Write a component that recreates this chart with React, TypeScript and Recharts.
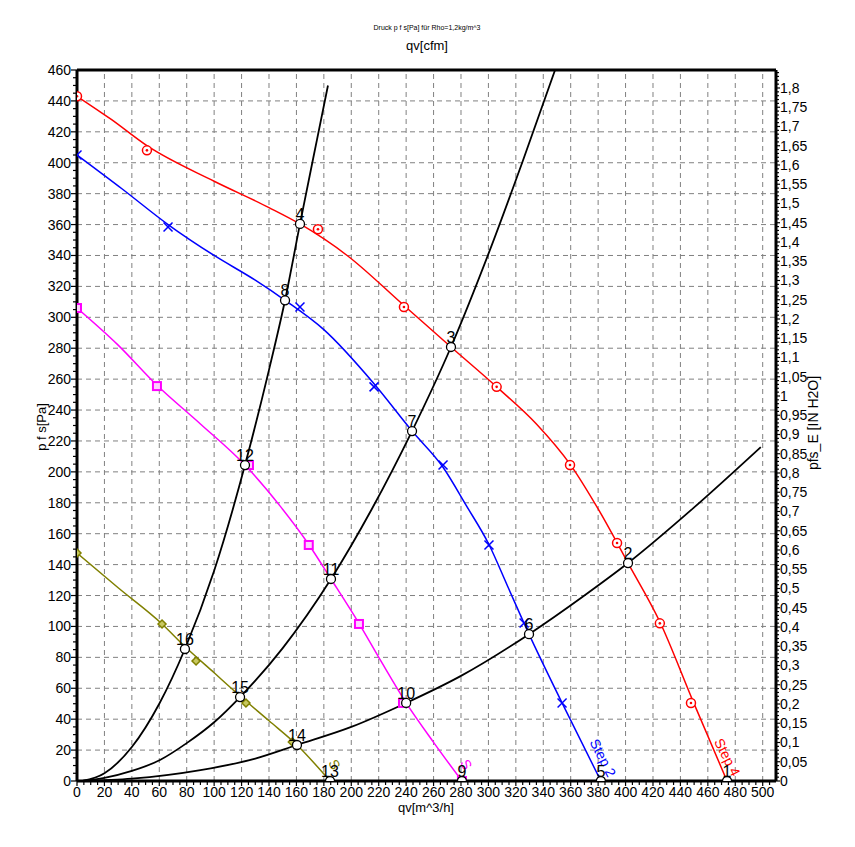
import React from "react"
import { ComposedChart, Line, Scatter, XAxis, YAxis, CartesianGrid, ReferenceLine } from "recharts"

const W = 855
const H = 847
const FONT = '"Liberation Sans", Arial, sans-serif'

const RED = "#ff0000"
const BLUE = "#0000ff"
const MAGENTA = "#ff00ff"
const OLIVE = "#808000"

// 300 cfm = 509.7 m^3/h, 1 inH2O = 249.089 Pa
const Q_MAX = 509.7
const P_MAX = 460
const CFM_MAX = 300
const IN_MAX = P_MAX / 249.089

const range = (a: number, b: number, s: number) => {
    const out: number[] = []
    for (let i = 0; a + i * s <= b + 1e-9; i++) out.push(Math.round((a + i * s) * 100) / 100)
    return out
}

// axis ticks
const qTicks = range(0, 505, 5)
const qGrid = range(20, 500, 20)
const pTicks = range(0, 460, 5)
const pGrid = range(20, 440, 20)
const cfmTicks = [0, 50, 100, 150, 200, 250, 300]
const inTicks = range(0, 1.84, 0.01)

// fan curves (qv m^3/h, p Pa)
const redLine = [[0, 443], [25, 428], [51, 411], [100, 388], [140, 371], [162.6, 360.4], [197, 340], [238, 308], [272.7, 280.8], [306, 255], [335, 231], [359.5, 205], [380, 176], [401.8, 141], [425, 103], [449, 52], [474, 0]]
const blueLine = [[0, 405], [33, 383], [66.4, 360], [100, 340], [130, 324], [151.7, 311], [180, 292], [216.6, 257], [244.3, 226.4], [266.9, 203], [284, 178], [300.4, 153], [314, 126], [329.6, 95], [353.7, 50.5], [382, 0]]
const magentaLine = [[0, 306], [30, 282], [58.3, 256], [90, 231], [122.5, 204.4], [148, 178], [169, 153], [185.2, 130.7], [205.6, 102], [222, 77], [240, 50.5], [260, 25], [280.7, 0]]
const oliveLine = [[0, 147.5], [30, 125], [62, 101.6], [78.7, 87], [100, 70], [118.9, 55], [140, 39], [160.4, 23.3], [184.5, 0]]

// measured points
const redMarks = [[0, 443], [51, 408], [175.7, 357], [238.4, 306.7], [306, 255], [359.5, 204.4], [393.8, 154], [425, 102], [447.7, 50.5]]
const blueMarks = [[0, 405], [66.4, 358.4], [162.6, 306.7], [216.6, 255], [266.9, 204.4], [300.4, 152.7], [326, 102.2], [353.7, 50.5]]
const magentaMarks = [[0, 306], [58.3, 255.5], [125.4, 204.4], [169, 152.7], [205.6, 101.6], [237.7, 50.5], [280.7, 0]]
const oliveMarks = [[0, 147.5], [62, 101.6], [86.8, 77.6], [123.2, 50.5], [157, 25.2]]

// system curves
const sysA = [[4, 0], [20, 5], [40, 22], [60, 50], [78.7, 85.4], [100, 136], [122.5, 204.4], [140, 266], [151.7, 311], [162.6, 360.4], [175, 415], [183, 450]]
const sysB = [[4, 0], [20, 2], [40, 6.5], [60.5, 13.6], [80, 24.5], [100, 38], [118.9, 54.3], [150, 86], [185.2, 130.7], [215, 176], [244.3, 226.4], [272.7, 280.8], [300, 341], [325, 401], [348.6, 460]]
const sysC = [[4, 0], [40, 1.5], [90, 7], [130, 14.5], [160.4, 23.3], [200, 35], [240, 50.5], [280, 68], [329.6, 95], [370, 120], [401.8, 141], [450, 177], [498.6, 216]]

// operating points
const opX = [474, 401.8, 272.7, 162.6, 382, 329.6, 244.3, 151.7, 280.7, 240, 185.2, 122.5, 184.5, 160.4, 118.9, 78.7]
const opY = [0, 141, 280.8, 360.4, 0, 95, 226.4, 311, 0, 50.5, 130.7, 204.4, 0, 23.3, 54.3, 85.4]
const opNames = ["1", "2", "3", "4", "5", "6", "7", "8", "9", "10", "11", "12", "13", "14", "15", "16"]

// curve names
const step2Label = [{ x: 373.6, y: 25.2, text: "Step 2" }]
const step4Label = [{ x: 464.3, y: 25.6, text: "Step 4" }]
const step1Label = [{ x: 279, y: 12, text: "S" }]
const step0Label = [{ x: 183, y: 12, text: "S" }]

const pts = (arr: number[][]) => arr.map(([x, y]) => ({ x, y }))
const opData = opX.map((x, i) => ({ x, y: opY[i], n: opNames[i] }))

const BottomTick = (p: any) => {
    const v = p.payload.value
    const major = Math.round(v) % 20 === 0
    return (
        <g>
            <line x1={p.x} x2={p.x} y1={p.y} y2={p.y + (major ? 5 : 4)} stroke="#000" strokeWidth={1.2} />
            {major && (
                <text x={p.x} y={p.y + 16} textAnchor="middle" fontSize={14} fontFamily={FONT} fill="#000">
                    {v}
                </text>
            )}
        </g>
    )
}

const TopTick = (p: any) => (
    <g>
        <line x1={p.x} x2={p.x} y1={p.y} y2={p.y + 4} stroke="#000" strokeWidth={1.2} />
        <text x={p.x} y={p.y - 6} textAnchor="middle" fontSize={14} fontFamily={FONT} fill="#000">
            {p.payload.value}
        </text>
    </g>
)

const LeftTick = (p: any) => {
    const v = p.payload.value
    const major = Math.round(v) % 20 === 0
    return (
        <g>
            <line x1={p.x} x2={p.x - (major ? 6 : 4)} y1={p.y} y2={p.y} stroke="#000" strokeWidth={1.2} />
            {major && (
                <text x={p.x - 6} y={p.y} textAnchor="end" dominantBaseline="central" fontSize={14} fontFamily={FONT} fill="#000">
                    {v}
                </text>
            )}
        </g>
    )
}

const RightTick = (p: any) => {
    const v = p.payload.value
    const major = Math.round(v * 100) % 5 === 0
    return (
        <g>
            <line x1={p.x} x2={p.x + (major ? 4 : 3)} y1={p.y} y2={p.y} stroke="#000" strokeWidth={1.2} />
            {major && (
                <text x={p.x + 4} y={p.y} textAnchor="start" dominantBaseline="central" fontSize={14} fontFamily={FONT} fill="#000">
                    {String(Math.round(v * 100) / 100).replace(".", ",")}
                </text>
            )}
        </g>
    )
}

const RedMark = (p: any) => (
    <g>
        <circle cx={p.cx} cy={p.cy} r={4.5} fill="#fff" stroke={RED} strokeWidth={1.5} />
        <circle cx={p.cx} cy={p.cy} r={1.3} fill={RED} />
    </g>
)

const BlueMark = (p: any) => (
    <g stroke={BLUE} strokeWidth={1.5}>
        <line x1={p.cx - 4.5} y1={p.cy - 4.5} x2={p.cx + 4.5} y2={p.cy + 4.5} />
        <line x1={p.cx - 4.5} y1={p.cy + 4.5} x2={p.cx + 4.5} y2={p.cy - 4.5} />
    </g>
)

const MagentaMark = (p: any) => (
    <rect x={p.cx - 4} y={p.cy - 4} width={8} height={8} fill="#ffd0ff" stroke={MAGENTA} strokeWidth={2} />
)

const OliveMark = (p: any) => (
    <polygon
        points={`${p.cx},${p.cy - 4} ${p.cx + 4},${p.cy} ${p.cx},${p.cy + 4} ${p.cx - 4},${p.cy}`}
        fill="#c8c860"
        stroke={OLIVE}
        strokeWidth={1.5}
    />
)

const OpPoint = (p: any) => (
    <g>
        <circle cx={p.cx} cy={p.cy} r={4.5} fill="#fff" stroke="#000" strokeWidth={1.3} />
        <text x={p.cx} y={p.cy - 4} textAnchor="middle" fontSize={16} fontFamily={FONT} fill="#000">
            {p.payload.n}
        </text>
    </g>
)

const stepShape = (color: string) => (p: any) => (
    <text
        x={p.cx}
        y={p.cy}
        transform={`rotate(63 ${p.cx} ${p.cy})`}
        fontSize={14}
        fontFamily={FONT}
        fill={color}
    >
        {p.payload.text}
    </text>
)

const axisLine = { stroke: "#000", strokeWidth: 3 }

export default function App() {
    const lineProps = {
        xAxisId: "q",
        yAxisId: "p",
        dataKey: "y",
        type: "monotone" as const,
        dot: false,
        activeDot: false,
        isAnimationActive: false,
    }
    const scatterProps = { xAxisId: "q", yAxisId: "p", dataKey: "y", isAnimationActive: false }

    return (
        <div style={{ position: "absolute", left: 0, top: 0, width: W, height: H, background: "#fff" }}>
            <ComposedChart width={W} height={H} margin={{ top: 0, right: 0, bottom: 0, left: 0 }}>
                <CartesianGrid xAxisId="q" yAxisId="pg" stroke="#808080" strokeDasharray="5 4" vertical={false} />
                <XAxis
                    xAxisId="q"
                    dataKey="x"
                    type="number"
                    orientation="bottom"
                    domain={[0, Q_MAX]}
                    allowDataOverflow
                    ticks={qTicks}
                    interval={0}
                    tickSize={0}
                    tickMargin={0}
                    tickLine={false}
                    tick={(p: any) => <BottomTick {...p} />}
                    axisLine={axisLine}
                    height={66}
                />
                <XAxis
                    xAxisId="cfm"
                    type="number"
                    orientation="top"
                    domain={[0, CFM_MAX]}
                    allowDataOverflow
                    ticks={cfmTicks}
                    interval={0}
                    tickSize={0}
                    tickMargin={0}
                    tickLine={false}
                    tick={(p: any) => <TopTick {...p} />}
                    axisLine={axisLine}
                    height={70}
                />
                <YAxis
                    yAxisId="p"
                    dataKey="y"
                    type="number"
                    orientation="left"
                    domain={[0, P_MAX]}
                    allowDataOverflow
                    ticks={pTicks}
                    interval={0}
                    tickSize={0}
                    tickMargin={0}
                    tickLine={false}
                    tick={(p: any) => <LeftTick {...p} />}
                    axisLine={axisLine}
                    width={77}
                />
                <YAxis
                    yAxisId="in"
                    type="number"
                    orientation="right"
                    domain={[0, IN_MAX]}
                    allowDataOverflow
                    ticks={inTicks}
                    interval={0}
                    tickSize={0}
                    tickMargin={0}
                    tickLine={false}
                    tick={(p: any) => <RightTick {...p} />}
                    axisLine={axisLine}
                    width={79}
                />
                <YAxis yAxisId="pg" type="number" domain={[0, P_MAX]} allowDataOverflow ticks={pGrid} interval={0} hide />

                {qGrid.map((v) => (
                    <ReferenceLine key={v} xAxisId="q" yAxisId="p" x={v} stroke="#808080" strokeDasharray="5 4" />
                ))}

                {/* system curves */}
                <Line {...lineProps} data={pts(sysA)} stroke="#000" strokeWidth={1.8} />
                <Line {...lineProps} data={pts(sysB)} stroke="#000" strokeWidth={1.8} />
                <Line {...lineProps} data={pts(sysC)} stroke="#000" strokeWidth={1.8} />

                {/* fan curves */}
                <Line {...lineProps} data={pts(redLine)} stroke={RED} strokeWidth={1.5} />
                <Line {...lineProps} data={pts(blueLine)} stroke={BLUE} strokeWidth={1.5} />
                <Line {...lineProps} data={pts(magentaLine)} stroke={MAGENTA} strokeWidth={1.5} />
                <Line {...lineProps} data={pts(oliveLine)} stroke={OLIVE} strokeWidth={1.5} />

                <Scatter {...scatterProps} data={pts(redMarks)} shape={RedMark} />
                <Scatter {...scatterProps} data={pts(blueMarks)} shape={BlueMark} />
                <Scatter {...scatterProps} data={pts(magentaMarks)} shape={MagentaMark} />
                <Scatter {...scatterProps} data={pts(oliveMarks)} shape={OliveMark} />

                <Scatter {...scatterProps} data={step2Label} shape={stepShape(BLUE)} />
                <Scatter {...scatterProps} data={step4Label} shape={stepShape(RED)} />
                <Scatter {...scatterProps} data={step1Label} shape={stepShape(MAGENTA)} />
                <Scatter {...scatterProps} data={step0Label} shape={stepShape(OLIVE)} />

                <Scatter {...scatterProps} data={opData} shape={OpPoint} />
            </ComposedChart>
            <svg width={W} height={H} style={{ position: "absolute", left: 0, top: 0, pointerEvents: "none" }}>
                <g fontFamily={FONT} fill="#000">
                    <text x={427} y={30} textAnchor="middle" fontSize={7}>
                        Druck p f s[Pa] für Rho=1,2kg/m^3
                    </text>
                    <text x={427} y={50} textAnchor="middle" fontSize={13}>
                        qv[cfm]
                    </text>
                    <text x={426} y={812} textAnchor="middle" fontSize={13}>
                        qv[m^3/h]
                    </text>
                    <text x={41} y={427} textAnchor="middle" dominantBaseline="central" fontSize={13} transform="rotate(-90 41 427)">
                        p f s[Pa]
                    </text>
                    <text x={813} y={423} textAnchor="middle" dominantBaseline="central" fontSize={14} transform="rotate(-90 813 423)">
                        pfs_E [IN H2O]
                    </text>
                </g>
            </svg>
        </div>
    )
}
